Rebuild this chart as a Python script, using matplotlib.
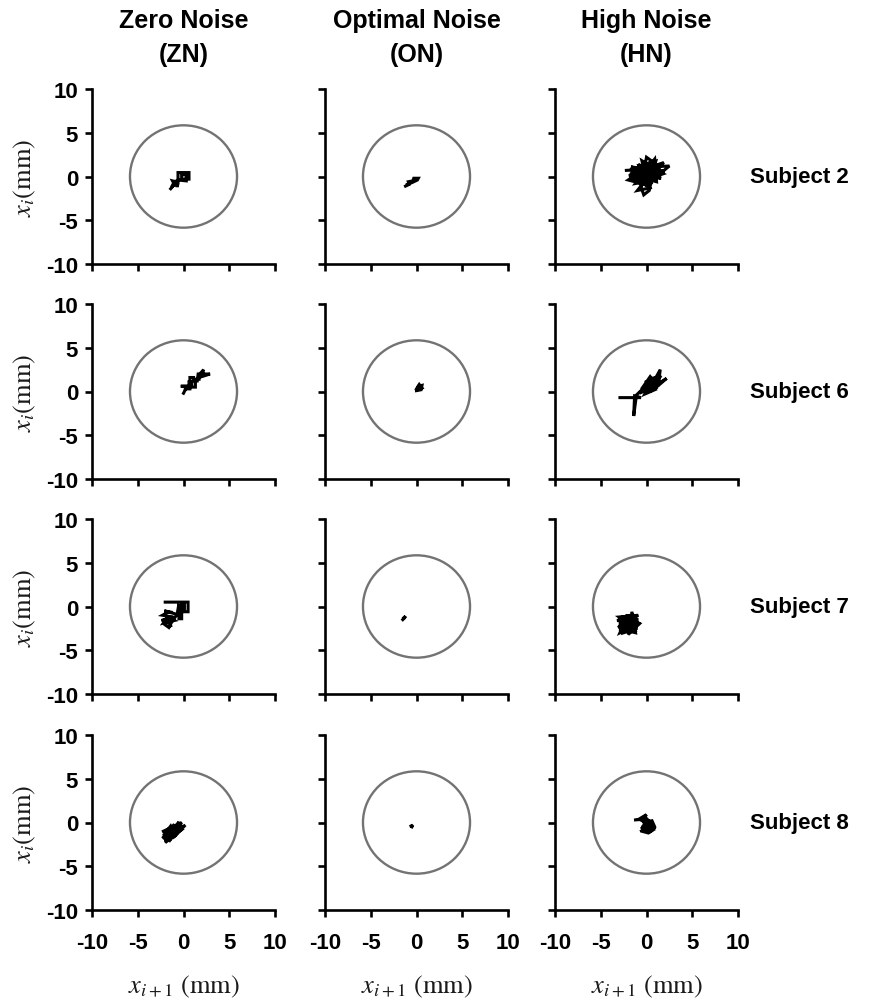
import matplotlib
matplotlib.use("Agg")
import matplotlib.pyplot as plt
from matplotlib.patches import Circle

plt.rcParams['font.family'] = ['Liberation Sans', 'DejaVu Sans']
plt.rcParams['mathtext.fontset'] = 'stix'
plt.rcParams['axes.unicode_minus'] = False

# ---------------- data ----------------
conditions = ["Zero Noise\n(ZN)", "Optimal Noise\n(ON)", "High Noise\n(HN)"]
subjects = ["Subject 2", "Subject 6", "Subject 7", "Subject 8"]
ticks = [-10, -5, 0, 5, 10]
target_radius = 5.85

# Subject 2
s2_zn_x = [-1.4, -1.0, -1.2, -0.8, -0.7, -0.6, -0.6, 0.6, 0.6, -0.2, -0.2, 0.3, 0.3, -0.6, -0.9, -1.3, -1.0, -0.5]
s2_zn_y = [-1.4, -0.9, -0.5, -0.6, -1.2, -0.8, 0.45, 0.45, -0.3, -0.3, 0.2, 0.2, -0.5, -0.4, -0.9, -1.2, -0.6, -0.4]
s2_on_x = [-1.2, -0.8, -0.9, -0.4, -0.3, 0.2, 0.1, -0.5, -1.0]
s2_on_y = [-1.1, -0.9, -0.6, -0.5, -0.2, -0.2, -0.4, -0.7, -0.9]
s2_hn_x = [-2.2, 1.0, -1.8, 1.5, -0.5, 0.2, -2.0, 0.8, 0.0, -0.6, -0.3, 0.3, 0.6, -1.6, 2.5, 0.5, -1.2,
           0.9, 1.1, -1.4, 2.0, -0.8, 0.4, -1.0, 1.3, -0.2, 1.6, -1.8, 0.7, -0.4, 1.9, -1.1, 0.2, 0.0,
           -1.5, 1.2, -0.9, 0.6, -1.3, 1.4, -0.2, 0.9, -1.7, 0.3, -0.7, 1.8, -0.1, -1.2, 0.5, 1.0,
           -0.5, -1.9, 0.8, -0.3]
s2_hn_y = [0.7, 0.9, 0.3, 0.5, 1.8, -1.0, -0.4, 1.6, 2.2, -1.2, -2.1, -1.6, 0.2, 1.0, 1.2, -0.5, -0.8,
           2.0, -0.6, 0.1, 0.6, 1.2, -1.3, -1.6, 1.4, 0.0, -0.2, 0.8, 1.0, -0.4, 1.6, 0.5, 1.5, -0.8,
           -0.2, 0.2, 1.4, -0.9, 0.6, 1.0, -1.1, 0.4, 1.1, 0.8, -0.6, 0.3, 1.2, -0.3, 0.0, 1.7,
           0.9, 0.1, -0.3, 0.6]

# Subject 6
s6_zn_x = [0.0, 0.4, -0.3, 0.6, 0.6, 0.9, 0.9, 1.3, 1.3, 1.7, 1.7, 2.2, 2.0, 2.9, 1.6, 1.5, 1.1, 1.1, 0.7, 0.7, 0.2]
s6_zn_y = [-0.2, 0.6, 0.6, 0.6, 1.1, 1.1, 0.5, 0.5, 1.4, 1.4, 1.9, 2.5, 1.7, 2.0, 2.0, 1.2, 1.2, 1.6, 1.6, 0.3, 0.3]
s6_on_x = [0.0, 0.5, 0.6, 0.2, 0.1, 0.6, 0.3, 0.0]
s6_on_y = [0.1, 0.2, 0.7, 0.6, 0.2, 0.4, 0.8, 0.3]
s6_hn_x = [-2.9, -0.6, -1.3, -1.4, -1.1, -0.5, 0.6, 1.0, 1.4, 0.2, 1.5, 1.3, 0.0, 0.9, -0.2, 0.5, 1.6,
           0.3, 1.2, 2.2, 0.7, -0.4, 0.4, 1.0, -0.8, 0.1, 0.8, 1.3, -0.1, 1.1, 0.5, 0.0, 1.4, 0.6,
           -0.3, 1.0, 0.2, 0.9, -0.6, 0.7, 0.3, 1.2]
s6_hn_y = [-0.7, -0.7, -0.5, -2.8, -0.4, 0.2, 1.5, 1.6, 1.0, 0.0, 2.5, 0.8, 0.9, 0.2, -0.3, 1.2, 1.8,
           0.4, 0.6, 1.5, 0.5, 0.5, 1.7, 0.9, -0.2, 0.6, 1.3, 1.4, 0.3, 1.2, 0.2, 1.1, 1.5, 0.8,
           0.0, 0.4, 1.4, 1.0, -0.1, 0.9, 0.5, 1.1]

# Subject 7
s7_zn_x = [-2.0, 0.5, 0.5, 0.1, 0.1, -0.2, -0.2, -0.5, -0.5, -0.7, -2.1, -1.6, -2.3, -1.2, -2.4, -1.5, -2.0,
           -1.6, -1.3, -0.9, -1.8, -2.2, -1.0, -1.9, -1.4]
s7_zn_y = [0.5, 0.5, -0.6, -0.6, 0.4, 0.4, -1.4, -1.4, 0.3, -0.9, -0.5, -0.6, -1.0, -1.2, -1.6, -1.5, -2.1,
           -2.4, -1.8, -1.2, -1.3, -1.9, -1.6, -1.1, -2.2]
s7_on_x = [-1.5, -1.3, -1.2, -1.4]
s7_on_y = [-1.5, -1.3, -1.1, -1.3]
s7_hn_x = [-2.6, -0.9, -3.0, -1.0, -2.5, -1.5, -2.0, -0.8, -3.2, -1.8, -2.8, -1.2, -1.6, -1.7, -3.0, -0.9,
           -2.4, -1.4, -2.2, -2.9, -1.9, -2.6, -1.1, -2.7, -1.5, -2.3, -1.0, -3.1, -1.9, -1.3, -2.5, -2.0]
s7_hn_y = [-1.2, -1.5, -2.0, -2.5, -3.0, -0.8, -3.2, -2.0, -1.6, -1.0, -2.6, -3.0, -0.6, -2.2, -1.2, -1.0,
           -2.0, -2.8, -1.4, -3.0, -2.5, -1.8, -2.2, -1.5, -2.9, -1.0, -1.8, -2.4, -1.3, -2.6, -2.2, -1.7]

# Subject 8
s8_zn_x = [-2.2, -0.2, -1.6, -1.0, -2.3, 0.2, -1.2, -0.5, -2.0, -0.3, -1.8, -0.8, -1.4, -2.2, -0.1, -1.7,
           -0.6, -1.9, -0.9, -1.5, -0.4, -2.1, -1.1, -0.2, -1.3]
s8_zn_y = [-1.0, 0.0, -2.2, -0.2, -1.8, -0.3, -1.8, 0.1, -2.3, -0.9, -0.8, -1.6, -0.4, -1.5, -0.4, -1.6,
           -1.2, -1.2, -0.5, -2.0, -0.6, -2.0, -1.4, -0.7, -1.0]
s8_on_x = [-0.6, -0.4, -0.5]
s8_on_y = [-0.4, -0.3, -0.5]
s8_hn_x = [-1.2, 0.1, -0.4, 0.6, 0.9, 0.3, -0.4, 0.4, -0.3, -0.5, 0.2, 0.8, 0.5, -0.2, 0.0, -0.8, 0.2, 0.7,
           -0.1, -0.6, 0.6, 0.1]
s8_hn_y = [0.3, 0.4, 0.0, 0.2, -0.5, -1.1, -0.9, -0.4, -0.3, -1.0, -1.2, -0.8, 0.0, 0.6, 0.9, 0.4, -0.2, -0.6,
           -0.8, -0.5, -1.0, -0.4]

trajectories = [
    [(s2_zn_x, s2_zn_y), (s2_on_x, s2_on_y), (s2_hn_x, s2_hn_y)],
    [(s6_zn_x, s6_zn_y), (s6_on_x, s6_on_y), (s6_hn_x, s6_hn_y)],
    [(s7_zn_x, s7_zn_y), (s7_on_x, s7_on_y), (s7_hn_x, s7_hn_y)],
    [(s8_zn_x, s8_zn_y), (s8_on_x, s8_on_y), (s8_hn_x, s8_hn_y)],
]

# ---------------- layout ----------------
W, H = 874, 1003
fig = plt.figure(figsize=(W / 100, H / 100), dpi=100)

col_left = [92, 325, 555]
ax_w = 183
row_top = [90, 305, 520, 736]
ax_h = 175

label_color = '#1a1a1a'

for r in range(4):
    for c in range(3):
        l = col_left[c] / W
        b = 1 - (row_top[r] + ax_h) / H
        ax = fig.add_axes([l, b, ax_w / W, ax_h / H])
        ax.set_xlim(-10, 10)
        ax.set_ylim(-10, 10)
        for s in ['top', 'right']:
            ax.spines[s].set_visible(False)
        for s in ['left', 'bottom']:
            ax.spines[s].set_linewidth(1.9)
        ax.set_xticks(ticks)
        ax.set_yticks(ticks)
        ax.tick_params(axis='x', direction='out', length=5, width=1.9, pad=11,
                       labelsize=16, labelbottom=(r == 3))
        ax.tick_params(axis='y', direction='out', length=5, width=1.9, pad=5,
                       labelsize=16, labelleft=(c == 0))
        for lab in ax.get_xticklabels() + ax.get_yticklabels():
            lab.set_fontweight('bold')
        ax.add_patch(Circle((0, 0), target_radius, fill=False,
                            edgecolor='#737373', linewidth=1.7, zorder=2))
        tx, ty = trajectories[r][c]
        ax.plot(tx, ty, color='black', linewidth=2.2, solid_joinstyle='miter', zorder=3)

        if c == 0:
            ax.set_ylabel(r'$x_i\mathrm{(mm)}$', fontsize=19, color=label_color, labelpad=6)
        if r == 3:
            ax.set_xlabel(r'$x_{i+1}\ \mathrm{(mm)}$', fontsize=19, color=label_color, labelpad=14)

# column titles
for c, title in enumerate(conditions):
    fig.text((col_left[c] + ax_w / 2) / W, 1 - 9 / H, title, ha='center', va='top',
             fontsize=18, fontweight='bold', linespacing=1.55)

# row labels
for r, subj in enumerate(subjects):
    fig.text(750 / W, 1 - (row_top[r] + ax_h / 2) / H, subj, ha='left', va='center',
             fontsize=16, fontweight='bold')

fig.savefig('out.png', dpi=100)
